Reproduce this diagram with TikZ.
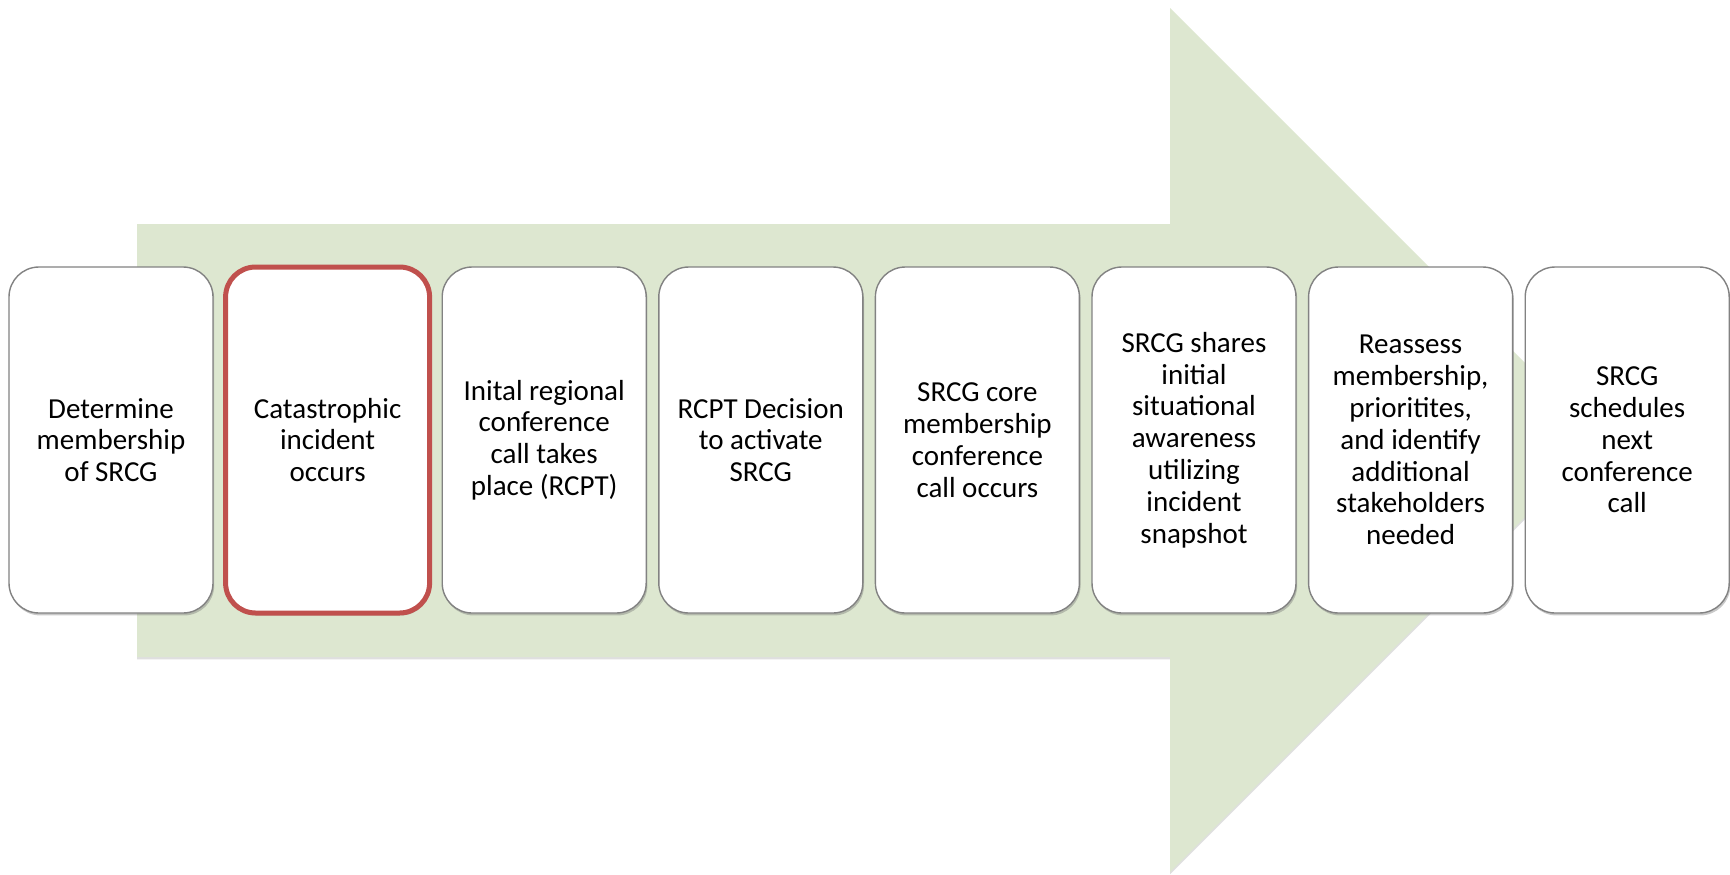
\documentclass[tikz,border=0pt]{standalone}
\usepackage{fontspec}
\setmainfont{Carlito}
\usetikzlibrary{shadows}
\definecolor{arrowgreen}{RGB}{221,231,208}
\definecolor{boxred}{RGB}{192,80,77}
\definecolor{boxgray}{RGB}{130,130,130}
\tikzset{
  stepbox/.style={draw=boxgray, line width=0.7pt, fill=white, rounded corners=15pt,
    minimum width=102pt, minimum height=173pt, inner sep=2pt, align=center,
    font=\fontsize{14.5pt}{15.9pt}\selectfont,
    drop shadow={shadow xshift=0.6pt, shadow yshift=-1.2pt, opacity=0.35, fill=black!60}},
  hilite/.style={draw=boxred, line width=2.5pt},
  bigarrow/.style={fill=arrowgreen, draw=none,
    drop shadow={shadow xshift=0pt, shadow yshift=-1.2pt, opacity=0.25, fill=black!50}}
}
\begin{document}
\begin{tikzpicture}[x=0.5pt,y=-0.5pt]
\useasboundingbox (0,0) rectangle (1730,874);
\fill[white] (0,0) rectangle (1730,874);
\path[bigarrow] (137,224) -- (1170,224) -- (1170,8) -- (1602,440) -- (1170,872) -- (1170,657) -- (137,657) -- cycle;
\node[stepbox] (b1) at (111,440) {Determine\\membership\\of SRCG};
\node[stepbox, hilite] (b2) at (327.6,440) {Catastrophic\\incident\\occurs};
\node[stepbox] (b3) at (544.2,440) {Inital regional\\conference\\call takes\\place (RCPT)};
\node[stepbox] (b4) at (760.8,440) {RCPT Decision\\to activate\\SRCG};
\node[stepbox] (b5) at (977.4,440) {SRCG core\\membership\\conference\\call occurs};
\node[stepbox] (b6) at (1194,440) {SRCG shares\\initial\\situational\\awareness\\utilizing\\incident\\snapshot};
\node[stepbox] (b7) at (1410.6,440) {Reassess\\membership,\\prioritites,\\and identify\\additional\\stakeholders\\needed};
\node[stepbox] (b8) at (1627.2,440) {SRCG\\schedules\\next\\conference\\call};
\end{tikzpicture}
\end{document}
